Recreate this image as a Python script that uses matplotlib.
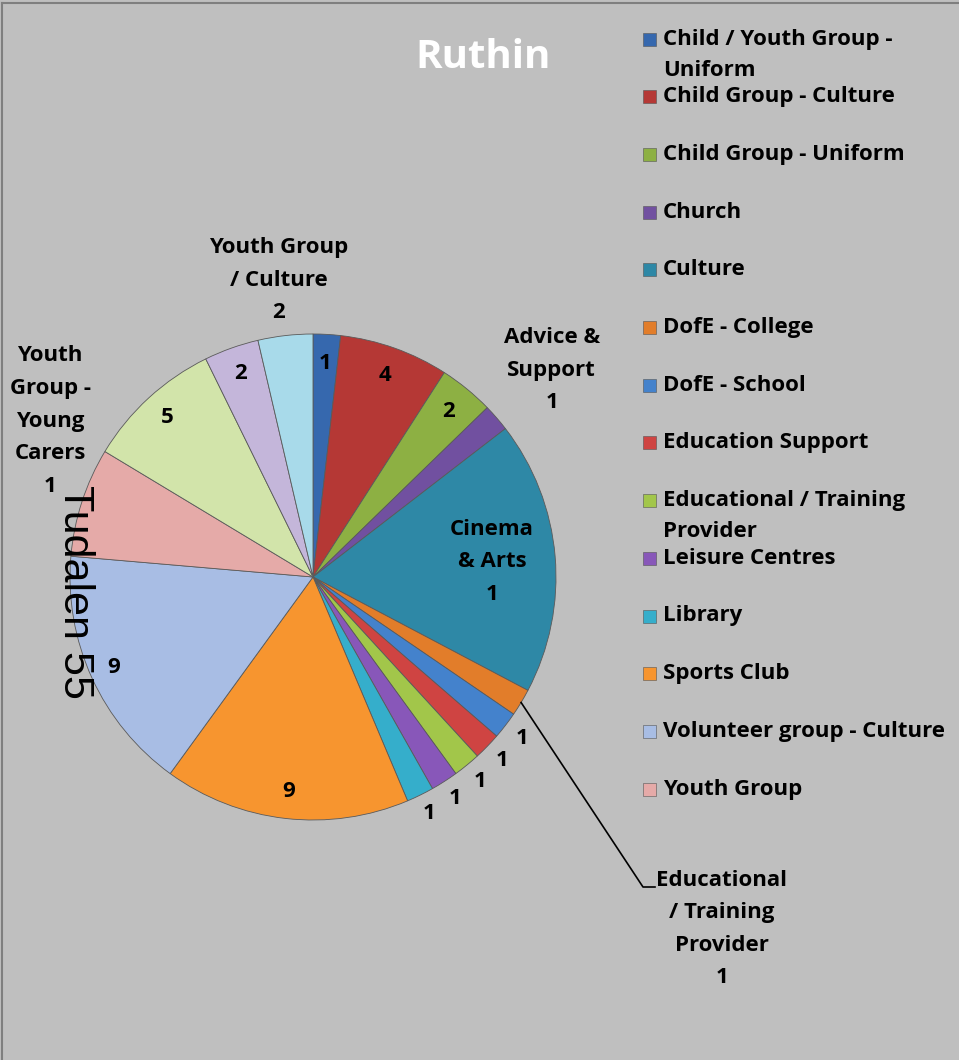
import numpy as np
import matplotlib.pyplot as plt
from matplotlib.patches import Rectangle

W, H = 959, 1060
BG = '#BFBFBF'

title = "Ruthin"

legend_names = [
    "Child / Youth Group -\nUniform",
    "Child Group - Culture",
    "Child Group - Uniform",
    "Church",
    "Culture",
    "DofE - College",
    "DofE - School",
    "Education Support",
    "Educational / Training\nProvider",
    "Leisure Centres",
    "Library",
    "Sports Club",
    "Volunteer group - Culture",
    "Youth Group",
]

# slice sizes, clockwise from 12 o'clock
values = [1, 4, 2, 1, 10, 1, 1, 1, 1, 1, 1, 9, 9, 4, 5, 2, 2]

# data label texts as printed on the chart
label_texts = [
    "1", "4", "2", "Advice &\nSupport\n1", "Cinema\n& Arts\n1",
    "Educational\n/ Training\nProvider\n1",
    "1", "1", "1", "1", "1", "9", "9",
    "Youth\nGroup -\nYoung\nCarers\n1", "5", "2", "Youth Group\n/ Culture\n2",
]

colors = [
    '#3668AE', '#B53835', '#8DB043', '#7150A0', '#2E88A6', '#E27D2A',
    '#4482CC', '#CF4442', '#A2C64A', '#8857B9', '#35AECB', '#F7952F',
    '#A8BDE4', '#E5AAA8', '#D2E4AA', '#C4B6DA', '#A8DAEA',
]

plt.rcParams['font.family'] = ['Open Sans', 'DejaVu Sans']

fig = plt.figure(figsize=(W / 100, H / 100), dpi=100)
fig.patch.set_facecolor(BG)
ax = fig.add_axes([0, 0, 1, 1])
ax.set_facecolor(BG)

def py(y):
    # pixel row (from top) -> data y
    return H - y

cx, cy, R = 313, py(577), 243
wedges, _ = ax.pie(values, colors=colors, startangle=90, counterclock=False,
                   center=(cx, cy), radius=R,
                   wedgeprops=dict(edgecolor='#5a5a5a', linewidth=0.6))
ax.set_xlim(0, W)
ax.set_ylim(0, H)
ax.set_aspect('auto')
ax.axis('off')

# radial distance for each data label (fraction of radius)
label_dist = [0.88, 0.88, 0.88, 1.30, 0.74, None,
              1.085, 1.085, 1.085, 1.085, 1.085, 0.89, 0.90, None, 0.89, 0.89, 1.23]
special_pos = {13: (50, 421)}

FS = 16
lab_kw = dict(ha='center', va='center', fontsize=FS, fontweight='bold',
              color='black', linespacing=1.72, multialignment='center', zorder=5)

for i, (w, txt) in enumerate(zip(wedges, label_texts)):
    mid = np.deg2rad((w.theta1 + w.theta2) / 2)
    if i in special_pos:
        x, y = special_pos[i]
        ax.text(x, py(y), txt, **lab_kw)
    elif label_dist[i] is None:
        # leader-line label
        x0, y0 = cx + R * np.cos(mid), cy + R * np.sin(mid)
        ax.plot([x0, 643, 655], [y0, py(887), py(887)], color='black', lw=1.2)
        ax.text(722, py(929), txt, **lab_kw)
    else:
        d = label_dist[i] * R
        ax.text(cx + d * np.cos(mid), cy + d * np.sin(mid), txt, **lab_kw)

# title
ax.text(483, py(57), title, ha='center', va='center', fontsize=29,
        fontweight='bold', color='white')

# legend
for i, name in enumerate(legend_names):
    yc = 39 + 57.7 * i
    ax.add_patch(Rectangle((643, py(yc) - 6.5), 13, 13, facecolor=colors[i],
                           edgecolor='#555555', linewidth=0.4))
    for j, line in enumerate(name.split('\n')):
        ax.text(663, py(yc + 31 * j), line, ha='left', va='center',
                fontsize=FS, fontweight='bold', color='black')

# page stamp
ax.text(75, py(592), "Tudalen 55", rotation=270, ha='center', va='center',
        fontsize=31, family='Liberation Sans', color='black', zorder=6)

# chart border
ax.plot([2, W], [py(3), py(3)], color='#7F7F7F', lw=1.5)
ax.plot([2, 2], [py(3), 0], color='#7F7F7F', lw=1.5)

fig.savefig('out.png', dpi=100, facecolor=BG)
